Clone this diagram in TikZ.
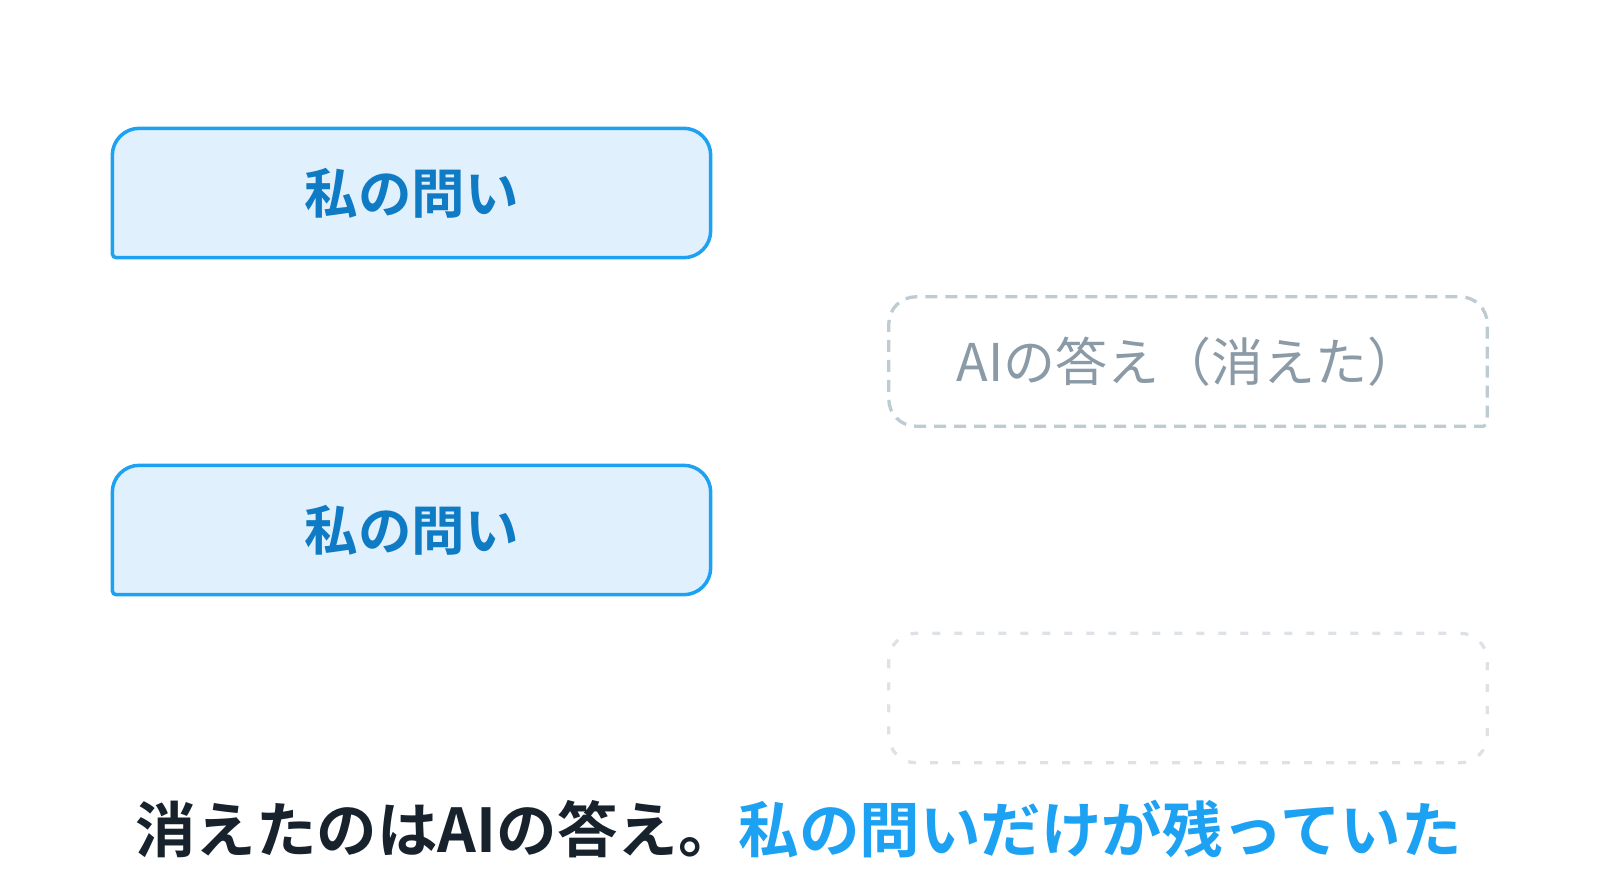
\documentclass[tikz,border=0pt]{standalone}
\usepackage{fontspec}
\usetikzlibrary{backgrounds}
\newfontfamily\jpfont{Noto Sans CJK JP}
\newfontfamily\jpbold{Noto Sans CJK JP Bold}
\definecolor{qline}{HTML}{1DA1F2}
\definecolor{qfill}{HTML}{E1F0FD}
\definecolor{qtext}{HTML}{0E7BC4}
\definecolor{aline}{HTML}{BFCBD3}
\definecolor{afaint}{HTML}{DCE2E7}
\definecolor{atext}{HTML}{8A9AA6}
\definecolor{dark}{HTML}{17222D}
\tikzset{
    slot/.style={minimum width=598, minimum height=129, inner sep=0},
    qlabel/.style={slot, font=\jpbold\fontsize{53.5}{60}\selectfont, text=qtext},
    alabel/.style={slot, font=\jpfont\fontsize{52}{60}\selectfont, text=atext},
}
\begin{document}
\begin{tikzpicture}
    [x=1pt, y=-1pt]
    \useasboundingbox (0,0) rectangle (1600,894);
    % question and answer slots
    \node[qlabel] (q1) at (411.5,193) {私の問い};
    \node[alabel] (a1) at (1188,361.5) {AIの答え（消えた）};
    \node[qlabel] (q2) at (411.5,530) {私の問い};
    \node[slot] (a2) at (1188,698) {};
    % bubbles
    \begin{scope}[on background layer]
        \foreach \q in {q1,q2} {
            \filldraw[draw=qline, fill=qfill, line width=3.5]
                (\q.west) [rounded corners=27] -- (\q.north west) -- (\q.north east)
                -- (\q.south east) [rounded corners=4] -- (\q.south west) [rounded corners=27] -- cycle;
        }
        \draw[aline, line width=3.3, dash pattern=on 12 off 8]
            (a1.east) [rounded corners=4] -- (a1.south east) [rounded corners=27]
            -- (a1.south west) -- (a1.north west) -- (a1.north east) [rounded corners=4] -- cycle;
        \draw[afaint, line width=3.3, dash pattern=on 8 off 14, rounded corners=27]
            (a2.north west) rectangle (a2.south east);
    \end{scope}
    % caption
    \node[font=\jpbold\fontsize{60.5}{68}\selectfont, inner sep=0] (caption) at (798.5,829)
        {\textcolor{dark}{消えたのはAIの答え。}\textcolor{qline}{私の問いだけが残っていた}};
\end{tikzpicture}
\end{document}
